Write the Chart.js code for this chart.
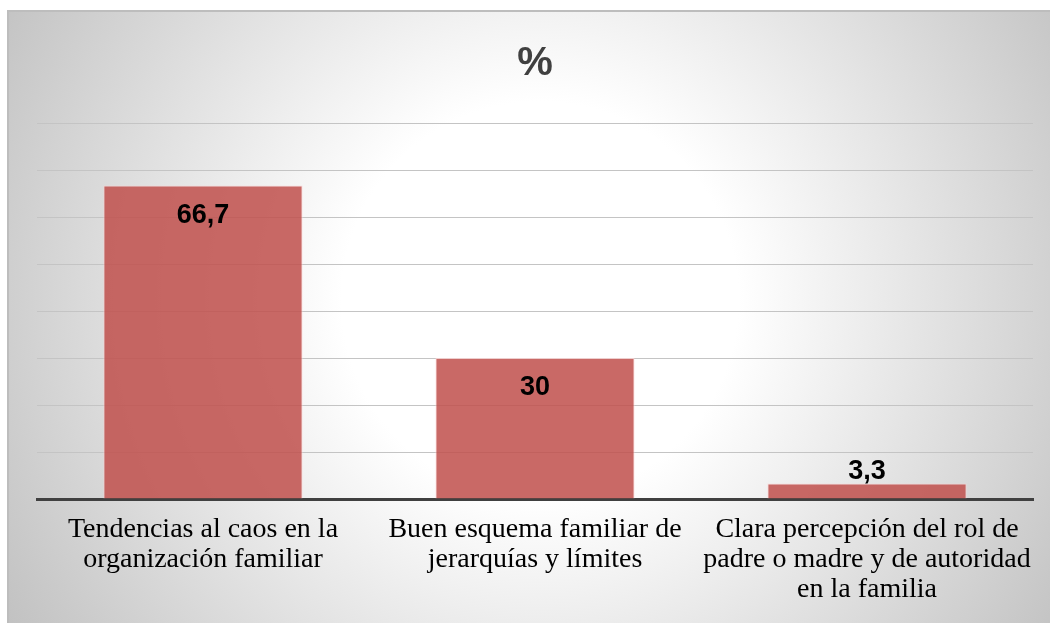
<!DOCTYPE html>
<html>
<head>
<meta charset="utf-8">
<script src="https://cdn.jsdelivr.net/npm/chart.js@4.4.1/dist/chart.umd.min.js"></script>
<style>
  html, body { margin: 0; padding: 0; background: #ffffff; }
  #wrap { width: 1050px; height: 623px; position: relative; }
</style>
</head>
<body>
<div id="wrap"><canvas id="chart"></canvas></div>
<script>
// Categories (wrapped onto lines) and percentages
const categories = [
  ["Tendencias al caos en la", "organización familiar"],
  ["Buen esquema familiar de", "jerarquías y límites"],
  ["Clara percepción del rol de", "padre o madre y de autoridad", "en la familia"]
];
const values = [66.7, 30, 3.3];
const chartTitle = "%";
const yMax = 80;
const yStep = 10;

// Soft radial background with a thin frame
const backdrop = {
  id: 'backdrop',
  beforeDraw(chart) {
    const ctx = chart.ctx;
    const w = chart.width, h = chart.height;
    ctx.save();
    ctx.fillStyle = '#ffffff';
    ctx.fillRect(0, 0, w, h);
    const g = ctx.createRadialGradient(540, 300, 0, 540, 300, 620);
    g.addColorStop(0, '#ffffff');
    g.addColorStop(0.32, '#ffffff');
    g.addColorStop(1, '#c2c2c2');
    ctx.fillStyle = g;
    ctx.fillRect(7, 10, w - 7, h - 10);
    ctx.strokeStyle = '#bdbdbd';
    ctx.lineWidth = 2;
    ctx.strokeRect(8, 11, w + 10, h + 10);
    ctx.restore();
  }
};

// Value labels: inside the top of tall bars, above short ones
const valueLabels = {
  id: 'valueLabels',
  afterDatasetsDraw(chart) {
    const ctx = chart.ctx;
    const meta = chart.getDatasetMeta(0);
    const ds = chart.data.datasets[0];
    ctx.save();
    ctx.font = 'bold 27px "Liberation Sans", Arial, sans-serif';
    ctx.fillStyle = '#000000';
    ctx.textAlign = 'center';
    ctx.textBaseline = 'middle';
    meta.data.forEach((bar, i) => {
      const v = ds.data[i];
      const txt = String(v).replace('.', ',');
      const height = bar.base - bar.y;
      const y = height > 50 ? bar.y + 30 : bar.y - 12;
      ctx.fillText(txt, bar.x, y);
    });
    ctx.restore();
  }
};

new Chart(document.getElementById('chart'), {
  type: 'bar',
  data: {
    labels: categories,
    datasets: [{
      data: values,
      backgroundColor: 'rgba(192, 80, 77, 0.86)',
      borderColor: 'rgba(255, 210, 210, 0.7)',
      borderWidth: 1,
      categoryPercentage: 0.6,
      barPercentage: 1.0
    }]
  },
  options: {
    responsive: true,
    maintainAspectRatio: false,
    animation: false,
    devicePixelRatio: 1,
    layout: { padding: { left: 37, right: 17, top: 0, bottom: 2 } },
    plugins: {
      legend: { display: false },
      tooltip: { enabled: false },
      title: {
        display: true,
        text: chartTitle,
        color: '#404040',
        font: { family: '"Liberation Sans", Arial, sans-serif', size: 40, weight: 'bold', lineHeight: 1.2 },
        padding: { top: 39.5, bottom: 35.5 }
      }
    },
    scales: {
      x: {
        grid: { display: false, drawTicks: false },
        border: { display: true, color: '#404040', width: 3 },
        ticks: {
          color: '#000000',
          maxRotation: 0,
          autoSkip: false,
          padding: 16,
          font: { family: '"Liberation Serif", "Times New Roman", serif', size: 28, lineHeight: '30px' }
        }
      },
      y: {
        min: 0,
        max: yMax,
        ticks: { display: false, stepSize: yStep },
        grid: { color: '#c4c4c4', lineWidth: 1, drawTicks: false },
        border: { display: false }
      }
    }
  },
  plugins: [backdrop, valueLabels]
});
</script>
</body>
</html>
